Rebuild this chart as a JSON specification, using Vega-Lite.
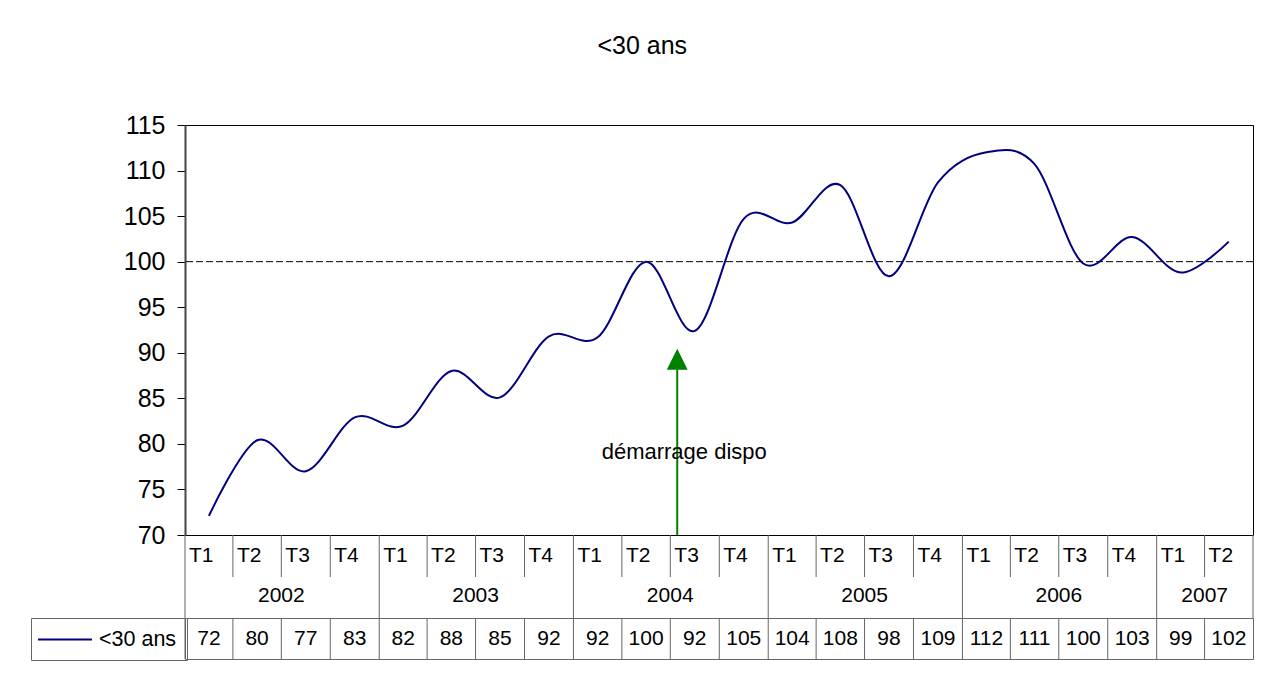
{
  "$schema": "https://vega.github.io/schema/vega-lite/v6.json",
  "background": "white",
  "padding": {"left": 30, "top": 33, "right": 22, "bottom": 17},
  "title": {"text": "<30 ans", "font": "Liberation Sans", "fontSize": 25, "fontWeight": "normal", "color": "black", "anchor": "middle", "offset": 54},
  "datasets": {
    "q": [
      {"date": "2002-01-01", "year": "2002", "quarter": "T1", "series": "<30 ans", "value": 72.1},
      {"date": "2002-04-01", "year": "2002", "quarter": "T2", "series": "<30 ans", "value": 80.4},
      {"date": "2002-07-01", "year": "2002", "quarter": "T3", "series": "<30 ans", "value": 77.0},
      {"date": "2002-10-01", "year": "2002", "quarter": "T4", "series": "<30 ans", "value": 82.9},
      {"date": "2003-01-01", "year": "2003", "quarter": "T1", "series": "<30 ans", "value": 82.0},
      {"date": "2003-04-01", "year": "2003", "quarter": "T2", "series": "<30 ans", "value": 88.0},
      {"date": "2003-07-01", "year": "2003", "quarter": "T3", "series": "<30 ans", "value": 85.1},
      {"date": "2003-10-01", "year": "2003", "quarter": "T4", "series": "<30 ans", "value": 91.8},
      {"date": "2004-01-01", "year": "2004", "quarter": "T1", "series": "<30 ans", "value": 91.7},
      {"date": "2004-04-01", "year": "2004", "quarter": "T2", "series": "<30 ans", "value": 100.0},
      {"date": "2004-07-01", "year": "2004", "quarter": "T3", "series": "<30 ans", "value": 92.4},
      {"date": "2004-10-01", "year": "2004", "quarter": "T4", "series": "<30 ans", "value": 104.7},
      {"date": "2005-01-01", "year": "2005", "quarter": "T1", "series": "<30 ans", "value": 104.3},
      {"date": "2005-04-01", "year": "2005", "quarter": "T2", "series": "<30 ans", "value": 108.4},
      {"date": "2005-07-01", "year": "2005", "quarter": "T3", "series": "<30 ans", "value": 98.4},
      {"date": "2005-10-01", "year": "2005", "quarter": "T4", "series": "<30 ans", "value": 108.7},
      {"date": "2006-01-01", "year": "2006", "quarter": "T1", "series": "<30 ans", "value": 112.0},
      {"date": "2006-04-01", "year": "2006", "quarter": "T2", "series": "<30 ans", "value": 110.7},
      {"date": "2006-07-01", "year": "2006", "quarter": "T3", "series": "<30 ans", "value": 99.8},
      {"date": "2006-10-01", "year": "2006", "quarter": "T4", "series": "<30 ans", "value": 102.7},
      {"date": "2007-01-01", "year": "2007", "quarter": "T1", "series": "<30 ans", "value": 98.8},
      {"date": "2007-04-01", "year": "2007", "quarter": "T2", "series": "<30 ans", "value": 102.2}
    ],
    "ann": [
      {"date": "2004-07-14", "label": "démarrage dispo"}
    ]
  },
  "bounds": "flush",
  "spacing": 0,
  "resolve": {"scale": {"x": "shared"}},
  "vconcat": [
    {
      "width": 1068,
      "height": 410,
      "view": {"stroke": "black", "strokeWidth": 1},
      "layer": [
        {
          "data": {"values": [{"ref": 100}]},
          "mark": {"type": "rule", "color": "black", "strokeWidth": 1, "strokeDash": [7, 3]},
          "encoding": {"y": {"field": "ref", "type": "quantitative"}}
        },
        {
          "data": {"name": "q"},
          "mark": {"type": "line", "interpolate": "cardinal", "strokeWidth": 2},
          "encoding": {
            "x": {"field": "date", "timeUnit": "utcyearquarter", "type": "temporal", "bandPosition": 0.5,
                  "scale": {"type": "utc", "domain": [{"year": 2002, "month": 1, "date": 1, "utc": true}, {"year": 2007, "month": 7, "date": 1, "utc": true}]},
                  "axis": null},
            "y": {"field": "value", "type": "quantitative",
                  "scale": {"domain": [70, 115], "nice": false, "zero": false},
                  "axis": {"values": [70, 75, 80, 85, 90, 95, 100, 105, 110, 115], "title": null, "grid": false,
                           "labelFont": "Liberation Sans", "labelFontSize": 25, "labelColor": "black", "labelPadding": 12,
                           "tickSize": 8, "tickColor": "black", "domainColor": "#444", "domainWidth": 2}},
            "color": {"field": "series", "type": "nominal", "scale": {"range": ["#000080"]},
                      "legend": {"orient": "none", "legendX": -154, "legendY": 493, "title": null,
                                 "strokeColor": "#666", "padding": 10, "cornerRadius": 0,
                                 "symbolType": "M-1.381,0H3.762", "symbolSize": 441, "symbolStrokeWidth": 2,
                                 "symbolStrokeColor": "#000080", "symbolFillColor": "transparent",
                                 "labelFont": "Liberation Sans", "labelFontSize": 21.5, "labelColor": "black", "labelOffset": 35}}
          }
        },
        {
          "data": {"name": "ann"},
          "mark": {"type": "rule", "color": "#008000", "strokeWidth": 2},
          "encoding": {
            "x": {"field": "date", "type": "temporal"},
            "y": {"datum": 70, "type": "quantitative"},
            "y2": {"datum": 88.3}
          }
        },
        {
          "data": {"name": "ann"},
          "mark": {"type": "point", "shape": "M0,-1L-1,1L1,1Z", "filled": true, "color": "#008000", "opacity": 1, "size": 440},
          "encoding": {
            "x": {"field": "date", "type": "temporal"},
            "y": {"datum": 89.3, "type": "quantitative"}
          }
        },
        {
          "data": {"name": "ann"},
          "mark": {"type": "text", "fontSize": 22, "align": "center", "baseline": "middle", "dx": 7, "color": "black"},
          "encoding": {
            "x": {"field": "date", "type": "temporal"},
            "y": {"datum": 79.1, "type": "quantitative"},
            "text": {"field": "label"}
          }
        }
      ]
    },
    {
      "width": 1068,
      "height": 42,
      "data": {"name": "q"},
      "view": {"stroke": null},
      "layer": [
        {
          "mark": {"type": "rule", "color": "#666", "strokeWidth": 1},
          "encoding": {"x": {"field": "date", "timeUnit": "utcyearquarter", "type": "temporal", "bandPosition": 0, "axis": null}}
        },
        {
          "transform": [{"filter": "datum.year == '2007' && datum.quarter == 'T2'"}],
          "mark": {"type": "rule", "color": "#666", "strokeWidth": 1},
          "encoding": {"x": {"field": "date", "timeUnit": "utcyearquarter", "type": "temporal", "bandPosition": 1, "axis": null}}
        },
        {
          "mark": {"type": "text", "align": "left", "baseline": "middle", "dx": 4, "fontSize": 21, "color": "black"},
          "encoding": {
            "x": {"field": "date", "timeUnit": "utcyearquarter", "type": "temporal", "bandPosition": 0, "axis": null},
            "text": {"field": "quarter"}
          }
        }
      ]
    },
    {
      "width": 1068,
      "height": 41,
      "data": {"name": "q"},
      "view": {"stroke": null},
      "layer": [
        {
          "transform": [{"filter": "datum.quarter == 'T1'"}],
          "mark": {"type": "rule", "color": "#666", "strokeWidth": 1},
          "encoding": {"x": {"field": "date", "timeUnit": "utcyearquarter", "type": "temporal", "bandPosition": 0, "axis": null}}
        },
        {
          "transform": [{"filter": "datum.year == '2007' && datum.quarter == 'T2'"}],
          "mark": {"type": "rule", "color": "#666", "strokeWidth": 1},
          "encoding": {"x": {"field": "date", "timeUnit": "utcyearquarter", "type": "temporal", "bandPosition": 1, "axis": null}}
        },
        {
          "mark": {"type": "text", "align": "center", "baseline": "middle", "dx": 24, "dy": -2, "fontSize": 21, "color": "black"},
          "encoding": {
            "x": {"field": "date", "aggregate": "mean", "type": "temporal", "axis": null},
            "text": {"field": "year", "type": "nominal"}
          }
        }
      ]
    },
    {
      "width": 1068,
      "height": 41,
      "data": {"name": "q"},
      "view": {"stroke": "#666", "strokeWidth": 1},
      "layer": [
        {
          "mark": {"type": "rule", "color": "#666", "strokeWidth": 1},
          "encoding": {"x": {"field": "date", "timeUnit": "utcyearquarter", "type": "temporal", "bandPosition": 0, "axis": null}}
        },
        {
          "mark": {"type": "text", "align": "center", "baseline": "middle", "fontSize": 21, "color": "black"},
          "encoding": {
            "x": {"field": "date", "timeUnit": "utcyearquarter", "type": "temporal", "bandPosition": 0.5, "axis": null},
            "text": {"field": "value", "type": "quantitative", "format": ".0f"}
          }
        }
      ]
    }
  ],
  "config": {
    "font": "Liberation Sans",
    "text": {"font": "Liberation Sans"}
  }
}
